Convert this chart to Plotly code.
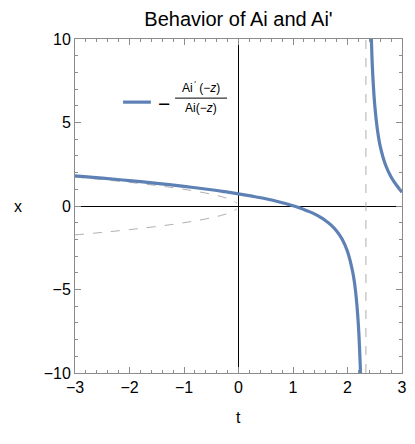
import plotly.graph_objects as go

# curve -Ai'(-z)/Ai(-z) (two branches around the pole)
t_left = [-3.0, -2.5, -2.0, -1.5, -1.0, -0.5, -0.25, 0.0, 0.25, 0.5, 0.75, 1.0,
          1.1, 1.2, 1.3, 1.4, 1.5, 1.6, 1.7, 1.8, 1.9, 2.0, 2.1, 2.15, 2.2, 2.24]
x_left = [1.807, 1.666, 1.520, 1.357, 1.176, 0.974, 0.857, 0.729, 0.587, 0.432, 0.244, 0.019,
          -0.086, -0.203, -0.336, -0.488, -0.666, -0.880, -1.146, -1.49, -1.98, -2.72, -4.03, -5.17, -7.14, -10.1]
t_right = [2.43, 2.45, 2.47, 2.5, 2.55, 2.6, 2.7, 2.8, 2.9, 3.0]
x_right = [10.8, 8.84, 7.47, 6.04, 4.54, 3.59, 2.44, 1.74, 1.24, 0.83]

# dashed asymptotes +/- sqrt(-t) for t<0
t_asym = [-3.0, -2.5, -2.0, -1.5, -1.0, -0.5, -0.25, -0.1, -0.03]
x_asym_up = [1.732, 1.581, 1.414, 1.225, 1.0, 0.707, 0.5, 0.316, 0.17]
x_asym_dn = [-1.732, -1.581, -1.414, -1.225, -1.0, -0.707, -0.5, -0.316, -0.17]

# vertical dashed line at the first zero of Ai(-z)
t_pole = [2.338, 2.338]
x_pole = [-10, 10]

blue = "#5E81B5"
dash_col = "#9a9a9a"
font = "Liberation Sans, Arial, sans-serif"

fig = go.Figure()
for ys in (x_asym_up, x_asym_dn):
    fig.add_trace(go.Scatter(x=t_asym, y=ys, mode="lines", line=dict(color=dash_col, width=0.8, dash="dash"),
                             line_shape="spline", hoverinfo="skip"))
fig.add_trace(go.Scatter(x=t_pole, y=x_pole, mode="lines", line=dict(color=dash_col, width=0.8, dash="dash"),
                         hoverinfo="skip"))
fig.add_trace(go.Scatter(x=t_left + [None] + t_right, y=x_left + [None] + x_right, mode="lines",
                         line=dict(color=blue, width=3.2), line_shape="spline", connectgaps=False))

axis_common = dict(showgrid=False, zeroline=True, zerolinecolor="black", zerolinewidth=1,
                   showline=True, linecolor="#8c8c8c", linewidth=1, mirror="allticks", automargin=False,
                   ticks="inside", ticklen=6, tickcolor="#8c8c8c", tickfont=dict(size=16, color="black"))
fig.update_xaxes(range=[-3, 3], tickvals=[-3, -2, -1, 0, 1, 2, 3],
                 ticktext=["\u22123", "\u22122", "\u22121", "0", "1", "2", "3"],
                 minor=dict(dtick=0.2, ticks="inside", ticklen=3, tickcolor="#8c8c8c"), **axis_common)
fig.update_yaxes(range=[-10, 10], tickvals=[-10, -5, 0, 5, 10],
                 ticktext=["\u221210", "\u22125", "0", "5", "10"],
                 minor=dict(dtick=1, ticks="inside", ticklen=3, tickcolor="#8c8c8c"), **axis_common)

# hand-made legend: sample line, minus sign and a fraction
fig.add_shape(type="line", xref="paper", yref="paper", x0=0.147, x1=0.232, y0=0.811, y1=0.811,
              line=dict(color=blue, width=3.2))
fig.add_shape(type="line", xref="paper", yref="paper", x0=0.306, x1=0.465, y0=0.823, y1=0.823,
              line=dict(color="black", width=1))
fig.add_annotation(text="\u2212", x=0.298, y=0.806, xref="paper", yref="paper", showarrow=False,
                   xanchor="right", yanchor="middle", font=dict(size=21, color="black", family=font))
fig.add_annotation(text="Ai<sup>\u2009\u2032</sup> (\u2212<i>z</i>)", x=0.385, y=0.826, xref="paper",
                   yref="paper", yanchor="bottom", showarrow=False, font=dict(size=12, color="black", family=font))
fig.add_annotation(text="Ai(\u2212<i>z</i>)", x=0.385, y=0.819, xref="paper", yref="paper",
                   yanchor="top", showarrow=False, font=dict(size=12, color="black", family=font))

# axis titles
fig.add_annotation(text="t", x=0.5, y=-0.165, xref="paper", yref="paper", showarrow=False,
                   font=dict(size=16, color="black", family=font))
fig.add_annotation(text="x", x=-0.193, y=0.5, xref="paper", yref="paper", showarrow=False,
                   font=dict(size=16, color="black", family=font))

# page body adds an 8px margin all round; keep the page free of scrollbars
fig.update_layout(
    width=399, height=428,
    margin=dict(l=67, r=5, t=31, b=63, autoexpand=False),
    paper_bgcolor="white", plot_bgcolor="white",
    showlegend=False,
    font=dict(family=font, color="black"),
    title=dict(text="Behavior of Ai and Ai'", x=0.5, xref="paper", y=0.974, yref="container",
               yanchor="middle", font=dict(size=20, color="black")),
)

fig.write_html("out.html")
